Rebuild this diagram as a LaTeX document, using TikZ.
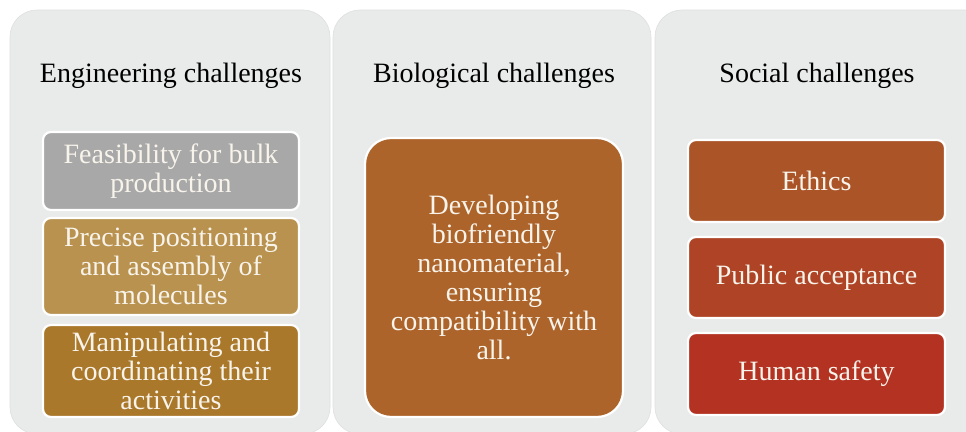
\documentclass[tikz,border=0pt]{standalone}
\usepackage{fontspec}
\setmainfont{Liberation Serif}
\definecolor{panelgray}{RGB}{233,234,234}
\definecolor{paneledge}{RGB}{222,223,223}
\definecolor{boxtext}{RGB}{248,244,236}
\definecolor{cGray}{RGB}{168,168,168}
\definecolor{cTan}{RGB}{184,146,78}
\definecolor{cGold}{RGB}{170,120,42}
\definecolor{cRust}{RGB}{172,100,42}
\definecolor{cEthics}{RGB}{170,84,40}
\definecolor{cPublic}{RGB}{174,68,37}
\definecolor{cSafety}{RGB}{180,50,34}
\tikzset{
  panel/.style={fill=panelgray, draw=paneledge, line width=0.6pt, rounded corners=27pt},
  heading/.style={anchor=base, font=\fontsize{28}{29}\selectfont, text=black},
  itembox/.style={draw=white, line width=2.2pt, rounded corners=8pt,
    inner sep=0pt, align=center, text=boxtext,
    font=\fontsize{28}{29}\selectfont},
}
\begin{document}
\begin{tikzpicture}[x=1pt, y=-1pt]
  \useasboundingbox (0,0) rectangle (966,431);
  \fill[white] (0,0) rectangle (966,431);

  % three column panels
  \path[panel] (10,10) rectangle (330,434) node[coordinate] (p1) {};
  \path[panel] (333,10) rectangle (651,434) node[coordinate] (p2) {};
  \path[panel] (655,10) rectangle (992,434) node[coordinate] (p3) {};

  % column headings
  \node[heading] (h1) at (171,82) {Engineering challenges};
  \node[heading] (h2) at (494,82) {Biological challenges};
  \node[heading] (h3) at (817,82) {Social challenges};

  % engineering column
  \node[itembox, fill=cGray, minimum width=256pt, minimum height=78pt]
    (e1) at (171,171) {Feasibility for bulk\\production};
  \node[itembox, fill=cTan, minimum width=256pt, minimum height=97pt]
    (e2) at (171,266.5) {Precise positioning\\and assembly of\\molecules};
  \node[itembox, fill=cGold, minimum width=256pt, minimum height=92pt]
    (e3) at (171,371) {Manipulating and\\coordinating their\\activities};

  % biological column
  \node[itembox, fill=cRust, rounded corners=26pt, minimum width=258pt, minimum height=279pt]
    (b1) at (494,277.5) {Developing\\biofriendly\\nanomaterial,\\ensuring\\compatibility with\\all.};

  % social column
  \node[itembox, fill=cEthics, minimum width=257pt, minimum height=82pt]
    (s1) at (816.5,181) {Ethics};
  \node[itembox, fill=cPublic, minimum width=257pt, minimum height=81pt]
    (s2) at (816.5,277.5) {Public acceptance};
  \node[itembox, fill=cSafety, minimum width=257pt, minimum height=82pt]
    (s3) at (816.5,374) {Human safety};
\end{tikzpicture}
\end{document}
